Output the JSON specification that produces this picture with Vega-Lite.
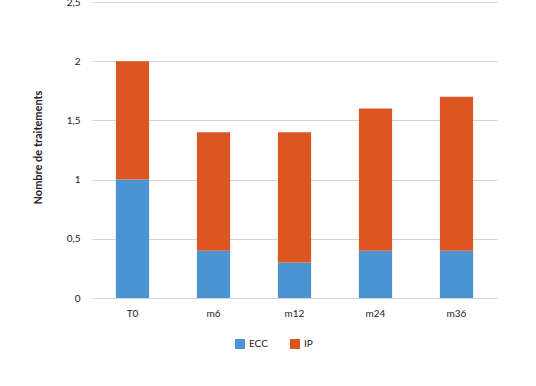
{
  "$schema": "https://vega.github.io/schema/vega-lite/v6.json",
  "width": 405,
  "height": 296,
  "autosize": {"type": "none"},
  "padding": {"left": 92, "top": 2, "right": 39, "bottom": 88},
  "background": "#ffffff",
  "data": {
    "values": [
      {"temps": "T0", "serie": "ECC", "valeur": 1.0},
      {"temps": "T0", "serie": "IP", "valeur": 1.0},
      {"temps": "m6", "serie": "ECC", "valeur": 0.4},
      {"temps": "m6", "serie": "IP", "valeur": 1.0},
      {"temps": "m12", "serie": "ECC", "valeur": 0.3},
      {"temps": "m12", "serie": "IP", "valeur": 1.1},
      {"temps": "m24", "serie": "ECC", "valeur": 0.4},
      {"temps": "m24", "serie": "IP", "valeur": 1.2},
      {"temps": "m36", "serie": "ECC", "valeur": 0.4},
      {"temps": "m36", "serie": "IP", "valeur": 1.3}
    ]
  },
  "mark": {"type": "bar"},
  "encoding": {
    "x": {
      "field": "temps",
      "type": "nominal",
      "sort": ["T0", "m6", "m12", "m24", "m36"],
      "scale": {"paddingInner": 0.59, "paddingOuter": 0.295},
      "axis": {
        "title": null,
        "labelAngle": 0,
        "ticks": false,
        "domain": false,
        "labelPadding": 10,
        "labelFont": "Lato",
        "labelFontSize": 10,
        "labelColor": "#222222"
      }
    },
    "y": {
      "field": "valeur",
      "type": "quantitative",
      "stack": "zero",
      "scale": {"domain": [0, 2.5]},
      "axis": {
        "title": "Nombre de traitements",
        "titleFont": "Lato",
        "titleFontSize": 11,
        "titleFontWeight": "bold",
        "titleColor": "#222222",
        "titleX": -49,
        "titleY": 145,
        "values": [0, 0.5, 1, 1.5, 2, 2.5],
        "labelExpr": "replace(format(datum.value, ''), '.', ',')",
        "ticks": false,
        "domain": false,
        "labelPadding": 12,
        "labelFont": "Lato",
        "labelFontSize": 10,
        "labelColor": "#222222",
        "gridColor": "#d4d4d4",
        "gridWidth": 1
      }
    },
    "color": {
      "field": "serie",
      "type": "nominal",
      "scale": {"domain": ["ECC", "IP"], "range": ["#4a94d4", "#dc5621"]},
      "legend": {
        "title": null,
        "orient": "none",
        "legendX": 143,
        "legendY": 337,
        "direction": "horizontal",
        "symbolType": "square",
        "symbolSize": 100,
        "symbolStrokeWidth": 0,
        "columnPadding": 22,
        "labelFont": "Lato",
        "labelFontSize": 10,
        "labelColor": "#222222"
      }
    },
    "order": {"field": "serie", "sort": "ascending"}
  },
  "config": {
    "view": {"stroke": null}
  }
}
